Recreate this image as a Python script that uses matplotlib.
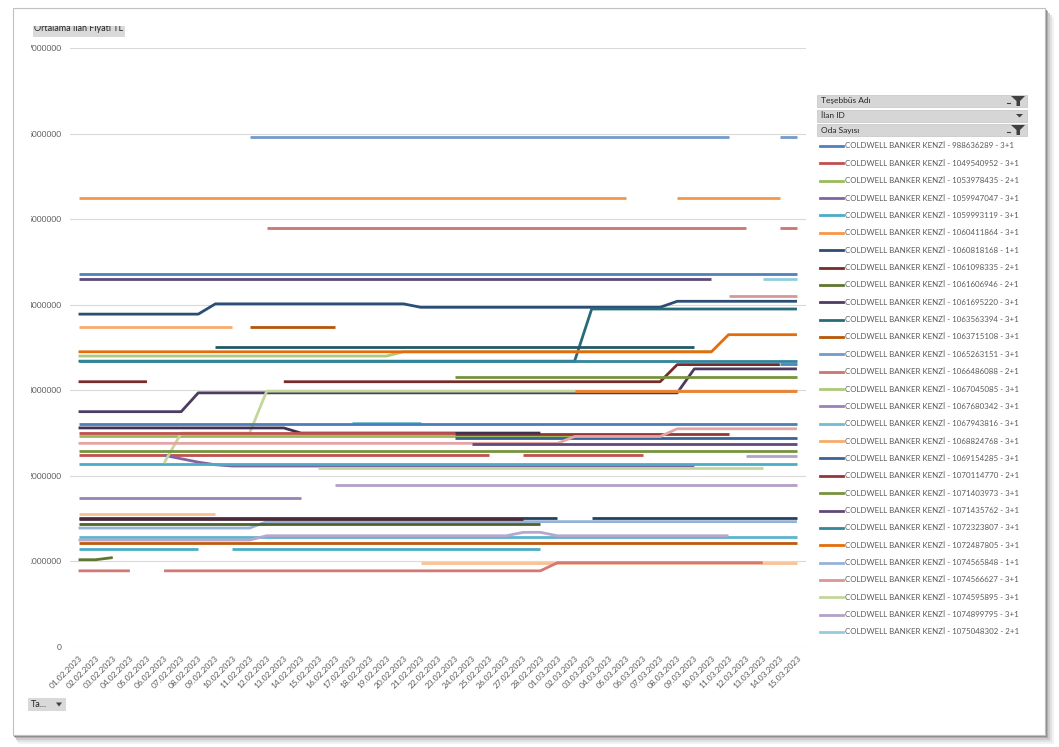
import numpy as np
import pandas as pd
import matplotlib
matplotlib.use("Agg")
import matplotlib.pyplot as plt
from matplotlib.patches import Rectangle, Polygon
from matplotlib.lines import Line2D
from matplotlib.transforms import Bbox, TransformedBbox

plt.rcParams['font.family'] = ['Lato', 'DejaVu Sans']

# --- data -------------------------------------------------------------
dates = list(pd.date_range('2023-02-01', '2023-03-15').strftime('%d.%m.%Y'))

ilan_ids = ['988636289', '1049540952', '1053978435', '1059947047', '1059993119',
            '1060411864', '1060818168', '1061098335', '1061606946', '1061695220',
            '1063563394', '1063715108', '1065263151', '1066486088', '1067045085',
            '1067680342', '1067943816', '1068824768', '1069154285', '1070114770',
            '1071403973', '1071435762', '1072323807', '1072487805', '1074565848',
            '1074566627', '1074595895', '1074899795', '1075048302']
oda_sayisi = ['3+1', '3+1', '2+1', '3+1', '3+1', '3+1', '1+1', '2+1', '2+1', '3+1',
              '3+1', '3+1', '3+1', '2+1', '3+1', '3+1', '3+1', '3+1', '3+1', '2+1',
              '3+1', '3+1', '3+1', '3+1', '1+1', '3+1', '3+1', '3+1', '2+1']

line_colors = ['#4F81BD', '#C0504D', '#9BBB59', '#8064A2', '#4BACC6', '#F79646',
               '#2C4D75', '#772C2A', '#5F7530', '#4D3B62', '#276A7C', '#B65708',
               '#729ACA', '#CD7371', '#AFC97A', '#9983B5', '#6FBDD1', '#F9AB6B',
               '#3A6496', '#953735', '#77933C', '#5F497A', '#31859C', '#E46C0A',
               '#95B3D7', '#D99694', '#C3D69B', '#B3A2C7', '#93CDDD', '#FAC090',
               '#254061', '#4E2A38', '#4F6228', '#3F3151', '#215968', '#C0580E',
               '#4A7EBB', '#C0504D', '#E3A6A5', '#77933C', '#604A7B', '#C4D79B',
               '#B1A0C7', '#FAC090', '#5DB4CB', '#B7A7D0', '#4BACC6', '#D47775',
               '#EE8030', '#4F81BD']

# price runs per series: (first day index, last day index, price in million TL)
s01 = [(0, 42, 4.36)]
s02 = [(0, 24, 2.24), (26, 33, 2.24)]
s03 = [(0, 34, 2.47)]
s04 = [(5, 5, 2.24), (6, 6, 2.20), (7, 7, 2.16), (8, 8, 2.13), (9, 36, 2.115)]
s05 = [(0, 42, 2.14)]
s06 = [(0, 32, 5.25), (35, 41, 5.25)]
s07 = [(0, 7, 3.89), (8, 19, 4.01), (20, 34, 3.97), (35, 42, 4.04)]
s08 = [(0, 4, 3.10), (12, 34, 3.10), (35, 41, 3.30)]
s09 = [(0, 1, 1.02), (2, 2, 1.045)]
s10 = [(0, 6, 2.75), (7, 35, 2.97), (36, 42, 3.25)]
s11 = [(0, 29, 3.34), (30, 42, 3.95)]
s12 = [(10, 15, 3.74)]
s13 = [(10, 38, 5.96), (41, 42, 5.96)]
s14 = [(11, 39, 4.90), (41, 42, 4.90)]
s15 = [(0, 18, 3.40), (19, 37, 3.45)]
s16 = [(0, 13, 1.74)]
s17 = [(16, 20, 2.62)]
s18 = [(0, 9, 3.74)]
s19 = [(22, 42, 2.44)]
s20 = [(22, 38, 2.49)]
s21 = [(22, 42, 3.155)]
s22 = [(0, 37, 4.30)]
s23 = [(0, 42, 3.34)]
s24 = [(0, 37, 3.45), (38, 42, 3.65)]
s25 = [(0, 10, 1.39), (11, 42, 1.465)]
s26 = [(38, 42, 4.10)]
s27 = [(5, 5, 2.15), (6, 10, 2.50), (11, 42, 2.99)]
s28 = [(39, 42, 2.23)]
s29 = [(40, 42, 4.30)]
s30 = [(20, 42, 0.98)]
s31 = [(0, 28, 1.51), (30, 42, 1.51)]
s32 = [(0, 26, 1.50)]
s33 = [(0, 27, 1.44)]
s34 = [(0, 12, 2.56), (13, 27, 2.50)]
s35 = [(8, 36, 3.51)]
s36 = [(0, 42, 1.215)]
s37 = [(0, 42, 2.61)]
s38 = [(0, 22, 2.50)]
s39 = [(0, 28, 2.38), (29, 34, 2.46), (35, 42, 2.55)]
s40 = [(0, 42, 2.29)]
s41 = [(23, 42, 2.37)]
s42 = [(14, 40, 2.09)]
s43 = [(15, 42, 1.89)]
s44 = [(0, 8, 1.55)]
s45 = [(0, 42, 1.29)]
s46 = [(0, 10, 1.25), (11, 25, 1.30), (26, 27, 1.34), (28, 38, 1.30)]
s47 = [(0, 7, 1.145), (9, 27, 1.145)]
s48 = [(0, 3, 0.89), (5, 27, 0.89), (28, 40, 0.985)]
s49 = [(29, 42, 2.99)]
s50 = [(41, 42, 3.31)]

series = [s01, s02, s03, s04, s05, s06, s07, s08, s09, s10,
          s11, s12, s13, s14, s15, s16, s17, s18, s19, s20,
          s21, s22, s23, s24, s25, s26, s27, s28, s29, s30,
          s31, s32, s33, s34, s35, s36, s37, s38, s39, s40,
          s41, s42, s43, s44, s45, s46, s47, s48, s49, s50]

# --- figure -----------------------------------------------------------
W, H = 1059, 747
fig = plt.figure(figsize=(W / 100, H / 100), dpi=100)
fig.patch.set_facecolor('white')


def fx(px):
    return px / W


def fy(py):
    return 1 - py / H


def box(x0, y0, x1, y1, **kw):
    r = Rectangle((fx(x0), fy(y1)), (x1 - x0) / W, (y1 - y0) / H,
                  transform=fig.transFigure, **kw)
    fig.add_artist(r)
    return r


# outer frame with a soft shadow
for d, c in [(9, '#F2F2F2'), (7, '#E2E2E2'), (5, '#CCCCCC'), (3, '#AFAFAF'), (1.5, '#8C8C8C')]:
    box(13 + d * 0.6, 8 + d, 1045 + d, 735 + d, fc=c, ec='none', zorder=-10)
box(13, 8, 1045, 735, fc='white', ec='#C0C0C0', lw=0.8, zorder=-9)

ax = fig.add_axes([fx(70), fy(647), (805.5 - 70) / W, (647 - 48) / H])
ax.set_facecolor('none')

x = np.arange(len(dates))
for runs, col in zip(series, line_colors):
    y = np.full(len(dates), np.nan)
    for a, b, v in runs:
        y[a:b + 1] = v * 1e6
    ax.plot(x, y, color=col, lw=2.0, solid_joinstyle='round', solid_capstyle='butt')

ax.set_xlim(-0.5, len(dates) - 0.5)
ax.set_ylim(0, 7e6)
yt = np.arange(0, 8e6, 1e6)
ax.set_yticks(yt)
ax.set_yticklabels([f'{int(v)}' for v in yt], fontsize=6, color='#595959')
ax.set_xticks(x)
ax.set_xticklabels(dates, rotation=45, ha='right', va='top',
                   rotation_mode='anchor', fontsize=6, color='#595959')
ax.tick_params(length=0)
ax.tick_params(axis='y', pad=6)
ax.tick_params(axis='x', pad=5)
ax.yaxis.grid(True, color='#D9D9D9', lw=0.8)
ax.set_axisbelow(True)
for sp in ax.spines.values():
    sp.set_visible(False)

# the value labels are cut off on the left, as in the original
clip_left = TransformedBbox(Bbox([[fx(31), 0], [1, 1]]), fig.transFigure)
for lab in ax.get_yticklabels():
    lab.set_clip_box(clip_left)
    lab.set_clip_on(True)

# value field button (cut at the top)
clip_top = TransformedBbox(Bbox([[0, 0], [1, fy(25.5)]]), fig.transFigure)
b = box(33, 22, 125, 36.5, fc='#D9D9D9', ec='none')
b.set_clip_box(clip_top)
t = fig.text(fx(34.5), fy(27.5), 'Ortalama İlan Fiyatı TL', fontsize=6.5,
             color='#262626', va='center', ha='left')
t.set_clip_box(clip_top)
t.set_clip_on(True)

# filter buttons above the legend
filters = ['Teşebbüs Adı', 'İlan ID', 'Oda Sayısı']
for k, name in enumerate(filters):
    y0 = 95 + k * 14.5
    box(817, y0, 1027, y0 + 12, fc='#D6D6D6', ec='#C4C4C4', lw=0.5)
    fig.text(fx(821), fy(y0 + 6), name, fontsize=6, color='#262626', va='center')
    if k == 1:
        tri = [(1016, y0 + 4.5), (1023, y0 + 4.5), (1019.5, y0 + 8)]
    else:
        tri = [(1011, y0 + 1), (1025, y0 + 1), (1020, y0 + 6), (1020, y0 + 11),
               (1016.5, y0 + 11), (1016.5, y0 + 6)]
        fig.add_artist(Line2D([fx(1007), fx(1010)], [fy(y0 + 7.5)] * 2,
                              transform=fig.transFigure, color='#404040', lw=0.8))
    fig.add_artist(Polygon([(fx(px), fy(py)) for px, py in tri], closed=True,
                           transform=fig.transFigure, fc='#404040', ec='none'))

# legend
n_leg = len(ilan_ids)
for k in range(n_leg):
    yy = 146 + k * (632 - 146) / (n_leg - 1)
    fig.add_artist(Line2D([fx(820), fx(843)], [fy(yy)] * 2, transform=fig.transFigure,
                          color=line_colors[k], lw=2))
    fig.text(fx(845), fy(yy), f'COLDWELL BANKER KENZİ - {ilan_ids[k]} - {oda_sayisi[k]}',
             fontsize=5.7, color='#595959', va='center', ha='left')

# axis field button bottom left
box(28, 698, 66, 711, fc='#D9D9D9', ec='none')
fig.text(fx(31), fy(704.5), 'Ta...', fontsize=6.5, color='#262626', va='center')
fig.add_artist(Polygon([(fx(56), fy(702.5)), (fx(62), fy(702.5)), (fx(59), fy(706.5))],
                       closed=True, transform=fig.transFigure, fc='#404040', ec='none'))

fig.savefig('out.png', dpi=100)
